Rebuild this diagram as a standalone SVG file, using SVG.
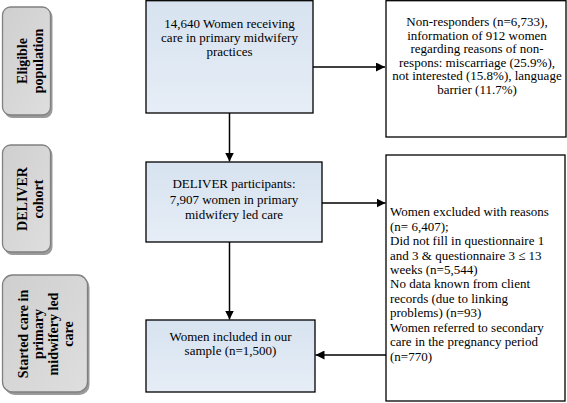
<svg xmlns="http://www.w3.org/2000/svg" width="567" height="403" viewBox="0 0 567 403">
<defs>
<linearGradient id="blue" x1="0" y1="0" x2="0" y2="1"><stop offset="0" stop-color="#d7e3f0"/><stop offset="1" stop-color="#e6edf6"/></linearGradient>
<linearGradient id="grey" x1="0" y1="0" x2="1" y2="1"><stop offset="0" stop-color="#cfcfcf"/><stop offset="1" stop-color="#dedede"/></linearGradient>
<marker id="ah" viewBox="0 0 10 10" refX="10" refY="5" markerWidth="9" markerHeight="9" markerUnits="userSpaceOnUse" orient="auto"><path d="M0,0 L10,5 L0,10 z" fill="#000"/></marker>
</defs>
<style>
.box{fill:url(#blue);stroke:#000;stroke-width:1.3}
.wbox{fill:#fff;stroke:#000;stroke-width:1.3}
.pill{fill:url(#grey);stroke:#808080;stroke-width:1.3}
.sh{fill:#9a9a9a}
.t{font-family:"Liberation Serif","Times New Roman",serif;font-size:13px;fill:#000}
.c{text-anchor:middle}
.p{font-family:"Liberation Serif","Times New Roman",serif;font-size:14px;font-weight:bold;fill:#000;text-anchor:middle}
.ln{stroke:#000;stroke-width:1.5;fill:none;marker-end:url(#ah)}
</style>
<rect width="567" height="403" fill="#fff"/>
<g id="pill1">
<rect class="sh" x="4.5" y="9" width="48" height="109" rx="8"/>
<rect class="pill" x="2.5" y="7" width="48" height="108" rx="8"/>
<text class="p" transform="translate(27,61) rotate(-90)"><tspan x="0" y="0">Eligible</tspan><tspan x="0" y="16">population</tspan></text>
</g>
<g id="pill2">
<rect class="sh" x="4.5" y="147" width="48" height="108" rx="8"/>
<rect class="pill" x="2.5" y="145" width="48" height="107" rx="8"/>
<text class="p" transform="translate(27,199) rotate(-90)"><tspan x="0" y="0">DELIVER</tspan><tspan x="0" y="16">cohort</tspan></text>
</g>
<g id="pill3">
<rect class="sh" x="4.5" y="277" width="85" height="118" rx="10"/>
<rect class="pill" x="2.5" y="275" width="85" height="117" rx="10"/>
<text class="p" transform="translate(28,334) rotate(-90)"><tspan x="0" y="0">Started care in</tspan><tspan x="0" y="15">primary</tspan><tspan x="0" y="30">midwifery led</tspan><tspan x="0" y="45">care</tspan></text>
</g>
<g id="n1">
<rect class="box" x="146" y="0.7" width="167" height="112.3"/>
<text class="t c"><tspan x="229.5" y="27.5">14,640 Women receiving</tspan><tspan x="229.5" y="41.5">care in primary midwifery</tspan><tspan x="229.5" y="55.5">practices</tspan></text>
</g>
<g id="n2">
<rect class="wbox" x="386" y="0.7" width="180" height="136.3"/>
<text class="t c"><tspan x="477" y="26">Non-responders (n=6,733),</tspan><tspan x="477" y="39.5">information of 912 women</tspan><tspan x="477" y="53">regarding reasons of non-</tspan><tspan x="477" y="66.5">respons: miscarriage (25.9%),</tspan><tspan x="477" y="80">not interested (15.8%), language</tspan><tspan x="477" y="93.5">barrier (11.7%)</tspan></text>
</g>
<g id="n3">
<rect class="box" x="146" y="162" width="176" height="80"/>
<text class="t c"><tspan x="234" y="188">DELIVER participants:</tspan><tspan x="234" y="203.5">7,907 women in primary</tspan><tspan x="234" y="218.5">midwifery led care</tspan></text>
</g>
<g id="n4">
<rect class="wbox" x="386" y="155" width="179" height="246"/>
<text class="t"><tspan x="390" y="216">Women excluded with reasons</tspan><tspan x="390" y="231">(n= 6,407);</tspan><tspan x="390" y="245">Did not fill in questionnaire 1</tspan><tspan x="390" y="259.5">and 3 &amp; questionnaire 3 ≤ 13</tspan><tspan x="390" y="274">weeks  (n=5,544)</tspan><tspan x="390" y="288">No data known from client</tspan><tspan x="390" y="302.5">records (due to linking</tspan><tspan x="390" y="317">problems) (n=93)</tspan><tspan x="390" y="331.5">Women referred to secondary</tspan><tspan x="390" y="346">care in the pregnancy period</tspan><tspan x="390" y="360.5">(n=770)</tspan></text>
</g>
<g id="n5">
<rect class="box" x="146" y="320" width="169" height="72"/>
<text class="t c"><tspan x="230.5" y="341">Women included in our</tspan><tspan x="230.5" y="355">sample (n=1,500)</tspan></text>
</g>
<g id="connectors">
<line class="ln" x1="313" y1="67" x2="385" y2="67"/>
<line class="ln" x1="229.5" y1="113" x2="229.5" y2="161.5"/>
<line class="ln" x1="322" y1="203" x2="385.5" y2="203"/>
<line class="ln" x1="229.5" y1="242" x2="229.5" y2="319.5"/>
<line class="ln" x1="386" y1="355" x2="315.5" y2="355"/>
</g>
</svg>
